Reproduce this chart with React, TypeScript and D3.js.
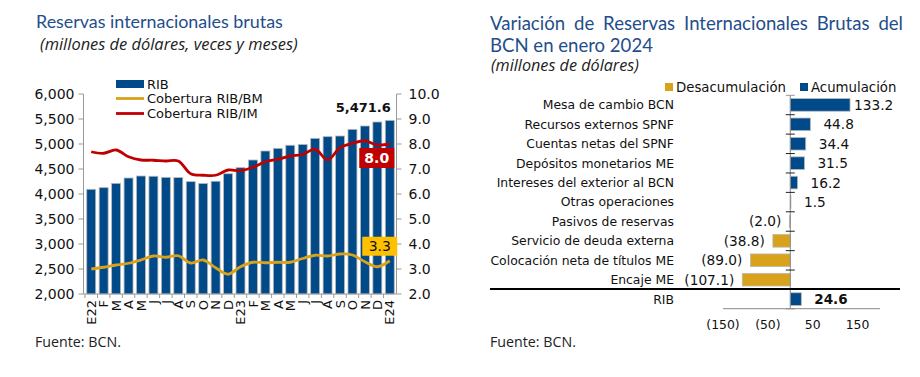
import React, { useLayoutEffect, useRef, useState } from "react";
import * as d3 from "d3";

// ---------- Left chart data ----------
const months = ["E22","F","M","A","M","J","J","A","S","O","N","D","E23","F","M","A","M","J","J","A","S","O","N","D","E24"];
const rib = [4094,4127,4213,4320,4360,4355,4333,4328,4247,4210,4255,4405,4527,4680,4860,4913,4975,4990,5113,5147,5160,5293,5360,5440,5471.6];
const coberturaBM = [3.0,3.07,3.16,3.23,3.36,3.52,3.47,3.53,3.24,3.36,3.05,2.79,3.09,3.27,3.25,3.27,3.27,3.42,3.55,3.52,3.6,3.56,3.29,3.09,3.33];
const coberturaIM = [7.69,7.63,7.76,7.49,7.36,7.35,7.32,7.32,6.81,6.75,6.75,6.96,6.93,7.07,7.29,7.39,7.52,7.58,7.79,7.36,7.85,8.03,8.13,7.96,8.0];
const leftTicks = [2000,2500,3000,3500,4000,4500,5000,5500,6000];
const rightTicks = [2,3,4,5,6,7,8,9,10];

// ---------- Right chart data ----------
const categories = ["Mesa de cambio BCN","Recursos externos SPNF","Cuentas netas del SPNF","Depósitos monetarios ME","Intereses del exterior al BCN","Otras operaciones","Pasivos de reservas","Servicio de deuda externa","Colocación neta de títulos ME","Encaje ME","RIB"];
const variation = [133.2,44.8,34.4,31.5,16.2,1.5,-2.0,-38.8,-89.0,-107.1,24.6];
const varTicks = [-150,-50,50,150];

const BLUE = "#014A8A";
const GOLD = "#D9A21B";
const RED = "#C00000";
const TITLE = "#1F4E8C";
const VERD = "'DejaVu Sans', Verdana, sans-serif";
const TFONT = "Lato, 'Noto Sans', sans-serif";
const SFONT = "'Open Sans', 'Noto Sans', sans-serif";

function FitText({ x, y, width, fontSize, text, onFit, ...rest }: any) {
  const ref = useRef<SVGTextElement>(null);
  const [fs, setFs] = useState(fontSize);
  useLayoutEffect(() => {
    const el = ref.current;
    if (!el) return;
    el.setAttribute("font-size", String(fontSize));
    const w = el.getComputedTextLength();
    const f = (fontSize * width) / w;
    setFs(f);
    if (onFit) onFit(f);
  }, [text, width, fontSize]);
  return (
    <text ref={ref} x={x} y={y} fontSize={fs} {...rest}>
      {text}
    </text>
  );
}

function JustText({ x, y, width, fontSize, text, ...rest }: any) {
  const ref = useRef<SVGTextElement>(null);
  const [ws, setWs] = useState(0);
  useLayoutEffect(() => {
    const el = ref.current;
    if (!el) return;
    el.style.wordSpacing = "0px";
    el.setAttribute("font-size", String(fontSize));
    const w = el.getComputedTextLength();
    const gaps = text.split(" ").length - 1;
    setWs(Math.max(0, (width - w) / gaps));
  }, [text, width, fontSize]);
  return (
    <text ref={ref} x={x} y={y} fontSize={fontSize} style={{ wordSpacing: ws + "px" }} {...rest}>
      {text}
    </text>
  );
}

const fmt1 = d3.format(",.1f");
const fmtVar = (v: number) => (v < 0 ? `(${Math.abs(v).toFixed(1)})` : v.toFixed(1));
const fmtTick = (v: number) => (v < 0 ? `(${Math.abs(v)})` : String(v));

export default function App() {
  const [rfs, setRfs] = useState(19);

  // ----- Left scales -----
  const xL = d3.scaleBand<number>().domain(d3.range(months.length)).range([85, 396]).paddingInner(0.28).paddingOuter(0.14);
  const bw = xL.bandwidth();
  const cx = (i: number) => (xL(i) as number) + bw / 2;
  const yL = d3.scaleLinear().domain([2000, 6000]).range([294, 94]);
  const yR = d3.scaleLinear().domain([2, 10]).range([294, 94]);
  const lineGen = (vals: number[]) =>
    d3.line<number>().x((_, i) => cx(i)).y((d) => yR(d)).curve(d3.curveCatmullRom.alpha(0.5))(vals) as string;
  const leftAxisX = 83.5;
  const rightAxisX = 396.5;
  const last = months.length - 1;

  // ----- Right scales -----
  const yB = d3.scaleBand<number>().domain(d3.range(categories.length)).range([95.3, 308.7]).paddingInner(0.35).paddingOuter(0.17);
  const step = yB.step();
  const xV = d3.scaleLinear().domain([-150, 200]).range([723, 880]);
  const x0 = xV(0);
  const maxV = d3.max(variation) as number;
  const sepY = (yB(categories.length - 1) as number) - (step - yB.bandwidth()) / 2 - 0.3;

  return (
    <svg width={920} height={377} style={{ display: "block", position: "absolute", left: 0, top: 0, background: "#fff" }}>
      <rect width={920} height={377} fill="#fff" />
      {/* ================= LEFT ================= */}
      <FitText x={36} y={27.5} width={247} fontSize={18} text="Reservas internacionales brutas" fill={TITLE} fontFamily={TFONT} />
      <FitText x={40} y={49.5} width={258} fontSize={14} text="(millones de dólares, veces y meses)" fill="#222" fontStyle="italic" fontFamily={SFONT} />

      {/* bars */}
      {rib.map((v, i) => (
        <rect key={"b" + i} x={xL(i)} y={yL(v)} width={bw} height={yL(2000) - yL(v)} fill={BLUE} stroke="#b8b8b8" strokeWidth={0.8} />
      ))}
      {/* lines */}
      <path d={lineGen(coberturaBM)} fill="none" stroke={GOLD} strokeWidth={2.8} />
      <path d={lineGen(coberturaIM)} fill="none" stroke={RED} strokeWidth={2.8} />

      {/* left axis */}
      <line x1={leftAxisX} x2={leftAxisX} y1={yL(6000)} y2={yL(2000)} stroke="#999" />
      {leftTicks.map((t) => (
        <g key={"lt" + t}>
          <line x1={leftAxisX - 5} x2={leftAxisX} y1={yL(t)} y2={yL(t)} stroke="#999" />
          <text x={leftAxisX - 9} y={yL(t)} dy="0.36em" textAnchor="end" fontSize={14} fontFamily={VERD} fill="#111">
            {d3.format(",")(t)}
          </text>
        </g>
      ))}
      {/* right axis */}
      <line x1={rightAxisX} x2={rightAxisX} y1={yR(10)} y2={yR(2)} stroke="#999" />
      {rightTicks.map((t) => (
        <g key={"rt" + t}>
          <line x1={rightAxisX} x2={rightAxisX + 5} y1={yR(t)} y2={yR(t)} stroke="#999" />
          <text x={rightAxisX + 12} y={yR(t)} dy="0.36em" textAnchor="start" fontSize={14} fontFamily={VERD} fill="#111">
            {t.toFixed(1)}
          </text>
        </g>
      ))}
      {/* x axis */}
      <line x1={leftAxisX} x2={rightAxisX} y1={294} y2={294} stroke="#999" strokeWidth={1.2} />
      {months.map((m, i) => (
        <g key={"xm" + i}>
          <line x1={(xL(i) as number) - (xL.step() - bw) / 2} x2={(xL(i) as number) - (xL.step() - bw) / 2} y1={294} y2={298} stroke="#999" />
          <text
            transform={`translate(${cx(i)},${300}) rotate(-90)`}
            textAnchor="end"
            dy="0.36em"
            fontSize={13}
            fontFamily={VERD}
            fill="#111"
          >
            {m}
          </text>
        </g>
      ))}

      {/* legend */}
      <rect x={116} y={80} width={28} height={8} fill={BLUE} />
      <text x={147} y={88.5} fontSize={13} fontFamily={VERD} fill="#111">RIB</text>
      <line x1={116} x2={144} y1={98.5} y2={98.5} stroke={GOLD} strokeWidth={2.8} />
      <text x={147} y={103} fontSize={13} fontFamily={VERD} fill="#111">Cobertura RIB/BM</text>
      <line x1={116} x2={144} y1={113.5} y2={113.5} stroke={RED} strokeWidth={2.8} />
      <text x={147} y={118} fontSize={13} fontFamily={VERD} fill="#111">Cobertura RIB/IM</text>

      {/* data labels */}
      <text x={cx(last) + 1} y={yL(rib[last]) - 8} textAnchor="end" fontSize={13} fontWeight="bold" fontFamily={VERD} fill="#111">
        {fmt1(rib[last])}
      </text>
      <rect x={cx(last) + bw / 2 - 35} y={yR(coberturaIM[last]) + 4} width={35} height={20} fill={RED} />
      <text x={cx(last) + bw / 2 - 17.5} y={yR(coberturaIM[last]) + 14} dy="0.36em" textAnchor="middle" fontSize={14} fontWeight="bold" fontFamily={VERD} fill="#fff">
        {coberturaIM[last].toFixed(1)}
      </text>
      <rect x={cx(last) + bw / 2 - 32} y={yR(coberturaBM[last]) - 24} width={35} height={19} fill="#FFC000" />
      <text x={cx(last) + bw / 2 - 14.5} y={yR(coberturaBM[last]) - 14.5} dy="0.36em" textAnchor="middle" fontSize={14} fontFamily={VERD} fill="#111">
        {coberturaBM[last].toFixed(1)}
      </text>

      <FitText x={35} y={347} width={86} fontSize={14} text="Fuente: BCN." fill="#222" fontFamily={SFONT} />

      {/* ================= RIGHT ================= */}
      <JustText x={490} y={29.5} width={413} fontSize={rfs} text="Variación de Reservas Internacionales Brutas del" fill={TITLE} fontFamily={TFONT} />
      <FitText x={490} y={51.5} width={163} fontSize={19} text="BCN en enero 2024" fill={TITLE} fontFamily={TFONT} onFit={setRfs} />
      <FitText x={491} y={71} width={148} fontSize={14} text="(millones de dólares)" fill="#222" fontStyle="italic" fontFamily={SFONT} />

      {/* legend */}
      <rect x={665} y={83} width={8} height={8} fill={GOLD} />
      <text x={676} y={91.5} fontSize={13.3} fontFamily={VERD} fill="#111">Desacumulación</text>
      <rect x={800} y={83} width={8} height={8} fill={BLUE} />
      <text x={811} y={91.5} fontSize={13.3} fontFamily={VERD} fill="#111">Acumulación</text>

      {/* bars */}
      {variation.map((v, i) => {
        const y = yB(i) as number;
        const x1 = Math.min(xV(v), x0);
        const w = Math.abs(xV(v) - x0);
        return (
          <rect key={"v" + i} x={x1} y={y} width={w} height={yB.bandwidth()} fill={v >= 0 ? BLUE : GOLD} stroke="#b8b8b8" strokeWidth={0.8} />
        );
      })}
      {/* zero axis with ticks */}
      <line x1={x0} x2={x0} y1={95.3} y2={308.7} stroke="#888" />
      {d3.range(categories.length + 1).map((k) => (
        <line key={"zt" + k} x1={x0 - 4.5} x2={x0 + 4.5} y1={95.3 + k * step} y2={95.3 + k * step} stroke={k === 0 || k === categories.length ? "#999" : "#222"} />
      ))}
      {/* category labels */}
      {categories.map((c, i) => (
        <text key={"c" + i} x={674} y={(yB(i) as number) + yB.bandwidth() / 2} dy="0.36em" textAnchor="end" fontSize={12.4} fontFamily={VERD} fill="#111">
          {c}
        </text>
      ))}
      {/* value labels */}
      {variation.map((v, i) => {
        const isLast = i === variation.length - 1;
        const yc = (yB(i) as number) + yB.bandwidth() / 2;
        const gap = v >= 0 ? (v === maxV ? 4 : 13) : 8;
        const xx = v >= 0 ? xV(v) + gap : xV(v) - gap;
        return (
          <text key={"vl" + i} x={xx} y={yc} dy="0.36em" textAnchor={v >= 0 ? "start" : "end"} fontSize={isLast ? 13.5 : 13.7} fontWeight={isLast ? "bold" : "normal"} fontFamily={VERD} fill="#111">
            {fmtVar(v)}
          </text>
        );
      })}
      {/* separator line */}
      <line x1={490} x2={900} y1={sepY} y2={sepY} stroke="#000" strokeWidth={2} />
      {/* bottom axis */}
      <line x1={xV(-150)} x2={xV(200)} y1={308.7} y2={308.7} stroke="#888" />
      {varTicks.map((t) => (
        <text key={"vt" + t} x={xV(t)} y={329} textAnchor="middle" fontSize={12.4} fontFamily={VERD} fill="#111">
          {fmtTick(t)}
        </text>
      ))}

      <FitText x={490} y={347} width={86} fontSize={14} text="Fuente: BCN." fill="#222" fontFamily={SFONT} />
    </svg>
  );
}
